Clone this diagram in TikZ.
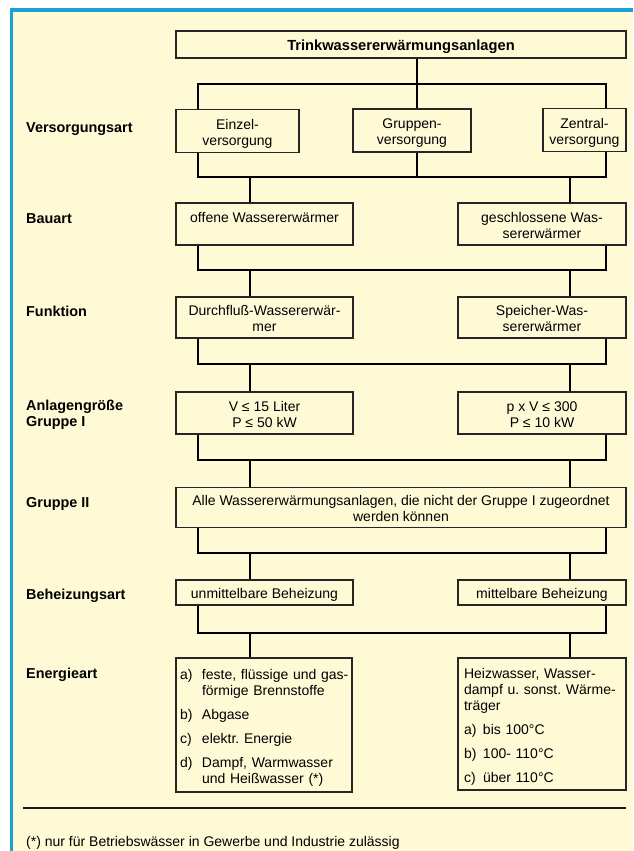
\documentclass[tikz,border=0pt]{standalone}
\usepackage{fontspec}
\setmainfont{Liberation Sans}
\definecolor{bgyel}{RGB}{255,250,214}
\definecolor{frameblue}{RGB}{27,160,220}
\newcommand\boxstrut{\rule{0pt}{12pt}}
\newcommand\nodepth[1]{\raisebox{0pt}[\height][0pt]{#1}}
\begin{document}
\frenchspacing
\begin{tikzpicture}[x=1pt,y=-1pt,
  box/.style={draw=black!85, line width=1.6pt, inner sep=0pt, align=center,
    font=\fontsize{14}{16}\selectfont\frenchspacing},
  lab/.style={anchor=base west, inner sep=0pt, font=\fontsize{14.4}{16}\selectfont\bfseries},
  conn/.style={draw=black, line width=1.3pt}]
\useasboundingbox (0,0) rectangle (633,851);
\fill[white] (0,0) rectangle (633,851);
\fill[frameblue] (10,8.5) rectangle (633,12);
\fill[frameblue] (10,8.5) rectangle (13.3,851);
\fill[bgyel] (13.3,12) rectangle (633,851);

% boxes
\node[box, minimum width=450pt, minimum height=27pt, font=\fontsize{14.67}{16}\selectfont\bfseries] (T) at (401,44.5) {\boxstrut\nodepth{Trinkwassererwärmungsanlagen}};
\node[box, minimum width=123pt, minimum height=43pt] (E1) at (237.5,131) {\boxstrut Einzel-\\\nodepth{versorgung}};
\node[box, minimum width=118pt, minimum height=43pt] (G1) at (412,130.5) {\boxstrut Gruppen-\\\nodepth{versorgung}};
\node[box, minimum width=83pt, minimum height=43pt] (Z1) at (584.5,130) {\boxstrut Zentral-\\\nodepth{versorgung}};

\node[box, minimum width=177pt, minimum height=42pt] (bau1) at (264.5,224) {\boxstrut offene Wassererwärmer\\\mbox{}};
\node[box, minimum width=168pt, minimum height=42pt] (bau2) at (542,224) {\boxstrut geschlossene Was-\\\nodepth{sererwärmer}};

\node[box, minimum width=177pt, minimum height=41pt] (fun1) at (264.5,317.5) {\boxstrut Durchfluß-Wassererwär-\\\nodepth{mer}};
\node[box, minimum width=168pt, minimum height=41pt] (fun2) at (542,317.5) {\boxstrut Speicher-Was-\\\nodepth{sererwärmer}};

\node[box, minimum width=177pt, minimum height=42pt] (anl1) at (264.5,413) {\boxstrut V ≤ 15 Liter\\\nodepth{P ≤ 50 kW}};
\node[box, minimum width=168pt, minimum height=42pt] (anl2) at (542,413) {\boxstrut p x V ≤ 300\\\nodepth{P ≤ 10 kW}};

\node[box, minimum width=450pt, minimum height=40pt] (G2) at (401,507.5) {\boxstrut Alle Wassererwärmungsanlagen, die nicht der Gruppe I zugeordnet\\\nodepth{werden können}};

\node[box, minimum width=177pt, minimum height=25pt] (H1) at (264.5,592.5) {\boxstrut\nodepth{unmittelbare Beheizung}};
\node[box, minimum width=168pt, minimum height=25pt] (H2) at (542,592.5) {\boxstrut\nodepth{mittelbare Beheizung}};

\node[box, align=left, text width=168pt, inner xsep=4pt, minimum height=134pt] (N1) at (264,725) {%
\boxstrut\mbox{\makebox[22pt][l]{a)}feste, flüssige und gas-}\\
\mbox{\hspace*{22pt}förmige Brennstoffe}\\[8pt]
\mbox{\makebox[22pt][l]{b)}Abgase}\\[8pt]
\mbox{\makebox[22pt][l]{c)}elektr. Energie}\\[8pt]
\mbox{\makebox[22pt][l]{d)}Dampf, Warmwasser}\\
\nodepth{\hspace*{22pt}und Heißwasser (*)}};
\node[box, align=left, text width=156pt, inner xsep=6pt, minimum height=132pt] (N2) at (542,724) {%
\boxstrut\mbox{Heizwasser, Wasser-}\\
\mbox{dampf u. sonst. Wärme-}\\
\mbox{träger}\\[8pt]
\mbox{\makebox[19pt][l]{a)}bis 100°C}\\[8pt]
\mbox{\makebox[19pt][l]{b)}100- 110°C}\\[8pt]
\nodepth{\makebox[19pt][l]{c)}über 110°C}};

% labels
\node[lab] (l1) at (26,132) {Versorgungsart};
\node[lab] (l2) at (26,223) {Bauart};
\node[lab] (l3) at (26,316) {Funktion};
\node[lab, anchor=west, align=left] (l4) at (26,415) {Anlagengröße\\Gruppe I};
\node[lab] (l5) at (26,507) {Gruppe II};
\node[lab] (l6) at (26,599) {Beheizungsart};
\node[lab] (l7) at (26,678) {Energieart};

% reference coordinates
\coordinate (xa) at (198,0);
\coordinate (xb) at (250,0);
\coordinate (xm) at (417,0);
\coordinate (xc) at (570,0);
\coordinate (xd) at (606,0);
\coordinate (y1) at (0,84);
\coordinate (y2) at (0,177);
\coordinate (y3) at (0,270);
\coordinate (y4) at (0,364);
\coordinate (y5) at (0,460);
\coordinate (y6) at (0,553);
\coordinate (y7) at (0,633);

% connectors
\draw[conn] (xm |- T.south) -- (xm |- y1);
\draw[conn] (xa |- E1.north) -- (xa |- y1) -- (xd |- y1) -- (xd |- Z1.north);
\draw[conn] (xm |- y1) -- (xm |- G1.north);
\draw[conn] (xa |- E1.south) -- (xa |- y2) -- (xd |- y2) -- (xd |- Z1.south);
\draw[conn] (xm |- G1.south) -- (xm |- y2);
\draw[conn] (xb |- y2) -- (xb |- bau1.north);
\draw[conn] (xc |- y2) -- (xc |- bau2.north);
\draw[conn] (xa |- bau1.south) -- (xa |- y3) -- (xd |- y3) -- (xd |- bau2.south);
\draw[conn] (xb |- y3) -- (xb |- fun1.north);
\draw[conn] (xc |- y3) -- (xc |- fun2.north);
\draw[conn] (xa |- fun1.south) -- (xa |- y4) -- (xd |- y4) -- (xd |- fun2.south);
\draw[conn] (xb |- y4) -- (xb |- anl1.north);
\draw[conn] (xc |- y4) -- (xc |- anl2.north);
\draw[conn] (xa |- anl1.south) -- (xa |- y5) -- (xd |- y5) -- (xd |- anl2.south);
\draw[conn] (xb |- y5) -- (xb |- G2.north);
\draw[conn] (xc |- y5) -- (xc |- G2.north);
\draw[conn] (xa |- G2.south) -- (xa |- y6) -- (xd |- y6) -- (xd |- G2.south);
\draw[conn] (xb |- y6) -- (xb |- H1.north);
\draw[conn] (xc |- y6) -- (xc |- H2.north);
\draw[conn] (xa |- H1.south) -- (xa |- y7) -- (xd |- y7) -- (xd |- H2.south);
\draw[conn] (xb |- y7) -- (xb |- N1.north);
\draw[conn] (xc |- y7) -- (xc |- N2.north);

% footnote
\coordinate (r1) at (23,808);
\coordinate (r2) at (626,808);
\draw[line width=1.5pt, black!90] (r1) -- (r2);
\node[anchor=base west, inner sep=0pt, font=\fontsize{14}{16}\selectfont] (fn) at (26,846) {(*) nur für Betriebswässer in Gewerbe und Industrie zulässig};
\end{tikzpicture}
\end{document}
